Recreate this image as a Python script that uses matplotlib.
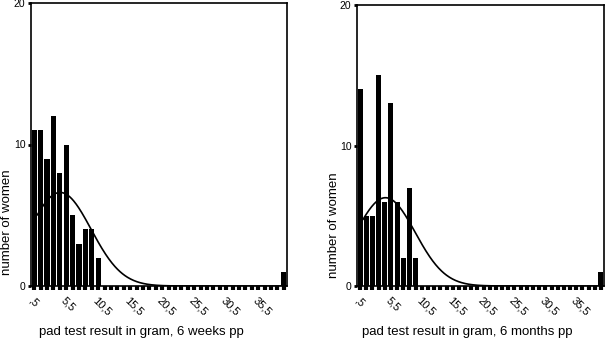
import numpy as np
import matplotlib
matplotlib.use("Agg")
import matplotlib.pyplot as plt

plt.rcParams['font.family'] = ['Liberation Sans', 'DejaVu Sans']

# bin centres (gram) and counts
bins_left = [0.5, 1.5, 2.5, 3.5, 4.5, 5.5, 6.5, 7.5, 8.5, 9.5, 10.5, 39.5]
counts_left = [11, 11, 9, 12, 8, 10, 5, 3, 4, 4, 2, 1]
bins_right = [0.5, 1.5, 2.5, 3.5, 4.5, 5.5, 6.5, 7.5, 8.5, 9.5, 39.5]
counts_right = [14, 5, 5, 15, 6, 13, 6, 2, 7, 2, 1]
tick_vals = [0.5, 5.5, 10.5, 15.5, 20.5, 25.5, 30.5, 35.5]
tick_labels = [",5", "5,5", "10,5", "15,5", "20,5", "25,5", "30,5", "35,5"]
xlabel_left = "pad test result in gram, 6 weeks pp"
xlabel_right = "pad test result in gram, 6 months pp"
ylabel = "number of women"

W, H = 607, 339
fig = plt.figure(figsize=(W / 100, H / 100), dpi=100)


def make_ax(l, r, t, b):
    return fig.add_axes([l / W, 1 - b / H, (r - l) / W, (b - t) / H])


def draw(ax, centers, counts, xlabel, xlab_frac):
    centers = np.array(centers)
    counts = np.array(counts)
    ax.bar(centers, counts, width=0.82, color='black', zorder=2)
    n = counts.sum()
    mu = (centers * counts).sum() / n
    sd = np.sqrt(((centers - mu) ** 2 * counts).sum() / (n - 1))
    xs = np.linspace(1.0, 40, 400)
    ys = n * 1.0 / (sd * np.sqrt(2 * np.pi)) * np.exp(-0.5 * ((xs - mu) / sd) ** 2)
    ax.plot(xs, ys, color='black', lw=1.2, zorder=3)
    ax.set_xlim(0, 40)
    ax.set_ylim(0, 20)
    ax.set_yticks([0, 10, 20])
    ax.tick_params(axis='y', length=2.5, width=2, pad=1.5, labelsize=7.5)
    ax.set_xticks(tick_vals)
    ax.set_xticks(np.arange(0.5, 40, 1.0), minor=True)
    ax.tick_params(axis='x', which='both', length=3, width=3, direction='out')
    ax.set_xticklabels(tick_labels, rotation=-45, ha='left', va='top',
                       rotation_mode='anchor', fontsize=8)
    for sp in ax.spines.values():
        sp.set_linewidth(1.2)
    ax.set_xlabel(xlabel, fontsize=9.5, va='center')
    ax.xaxis.set_label_coords(xlab_frac, -0.163)
    ax.set_ylabel(ylabel, fontsize=9.5, va='center')


ax1 = make_ax(31, 287, 3, 286)
draw(ax1, bins_left, counts_left, xlabel_left, 0.43)
ax1.yaxis.set_label_coords(-0.094, 0.227)

ax2 = make_ax(357, 604, 5, 286)
draw(ax2, bins_right, counts_right, xlabel_right, 0.447)
ax2.yaxis.set_label_coords(-0.093, 0.217)

fig.savefig("out.png", dpi=100)
